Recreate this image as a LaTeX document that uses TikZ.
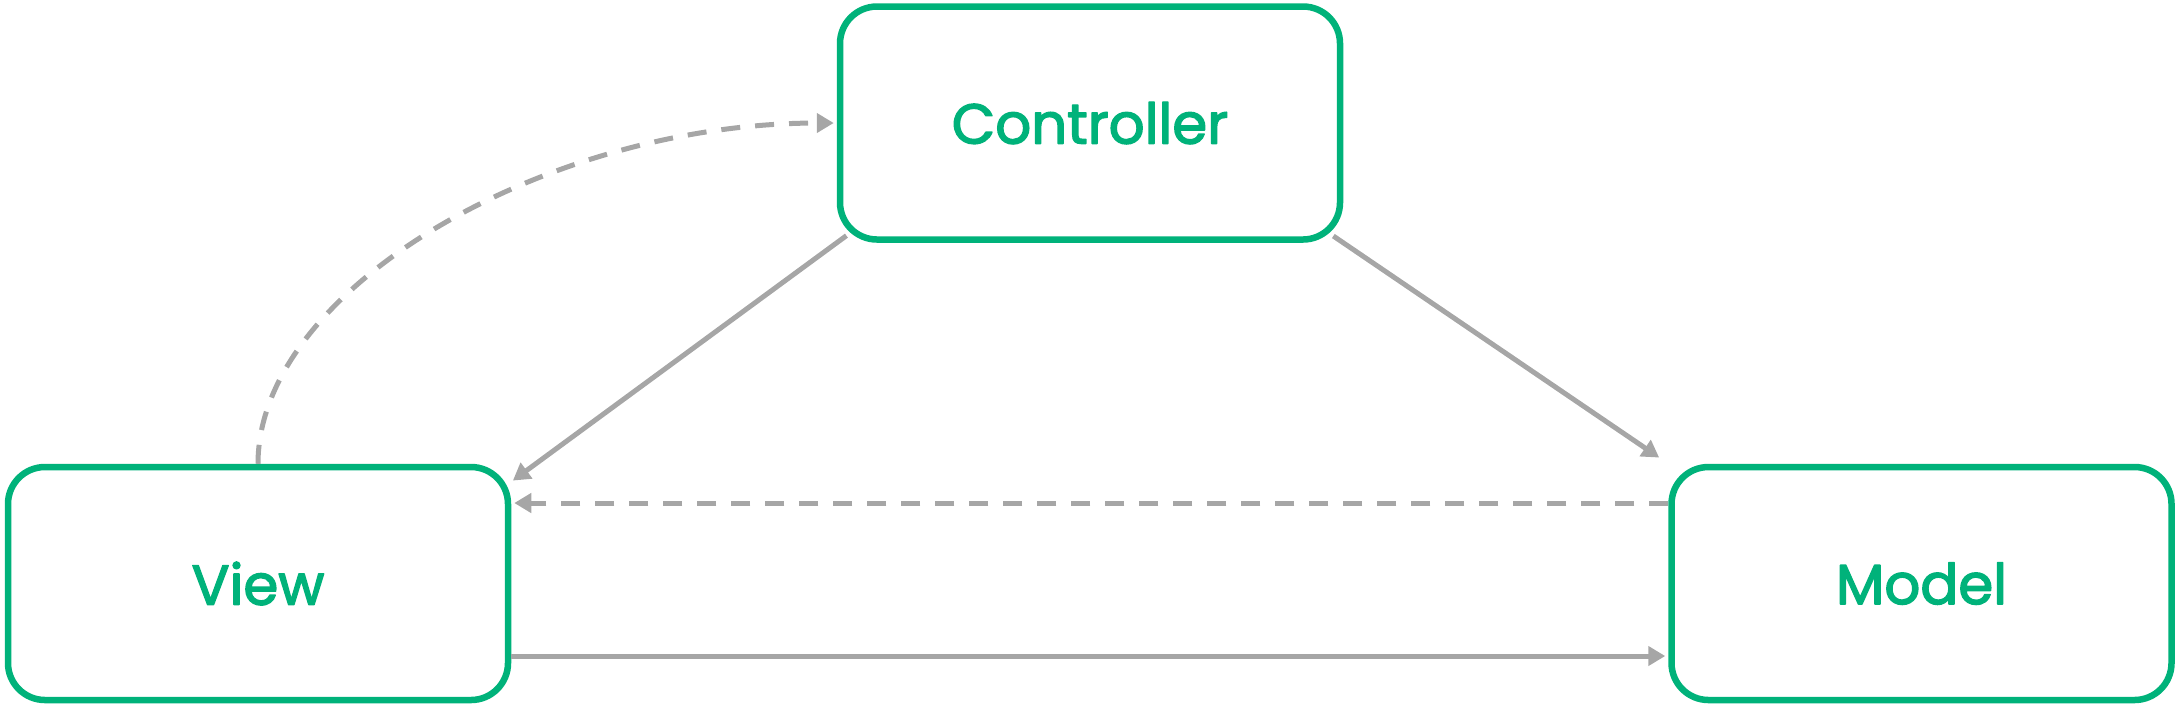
\documentclass[tikz,border=0pt]{standalone}
\usepackage{fontspec}
\setmainfont{Poppins}[FakeBold=2.5]
\usetikzlibrary{positioning}
\usetikzlibrary{shapes,arrows.meta}

\definecolor{mvcgreen}{RGB}{0,178,122}
\definecolor{mvcgray}{RGB}{166,166,166}

\begin{document}
\begin{tikzpicture}[
  box/.style={draw=mvcgreen, line width=0.065cm, line join=round, rounded corners=0.37cm, fill=white,
    minimum width=5cm, minimum height=2.33cm, text=mvcgreen,
    font=\fontsize{16}{19}\selectfont},
  link/.style={draw=mvcgray, line width=0.05cm, -{Triangle[length=0.17cm,width=0.19cm]}},
  dlink/.style={link, dash pattern=on 0.19cm off 0.15cm}]

\useasboundingbox (0,0) rectangle (21.8,-7.09);

\node[box] (ctrl) at (10.9,-1.23) {Controller};
\node[box] (view) at (2.58,-5.835) {View};
\node[box] (model) at (19.215,-5.835) {Model};

\draw[link, shorten <=-0.12cm, shorten >=0.02cm] (ctrl.south west) -- ([yshift=-0.18cm]view.north east);
\draw[link, shorten <=-0.12cm, shorten >=0.11cm] (ctrl.south east) -- (model.north west);

\draw[dlink, shorten >=0.03cm] ([yshift=0.805cm]model.west) -- ([yshift=0.805cm]view.east);
\draw[link, shorten >=0.03cm] ([yshift=-0.725cm]view.east) -- ([yshift=-0.725cm]model.west);

\draw[dlink, shorten >=0.03cm] (view.north) .. controls +(0,1.75) and +(-2.9,0) .. (ctrl.west);
\end{tikzpicture}
\end{document}
